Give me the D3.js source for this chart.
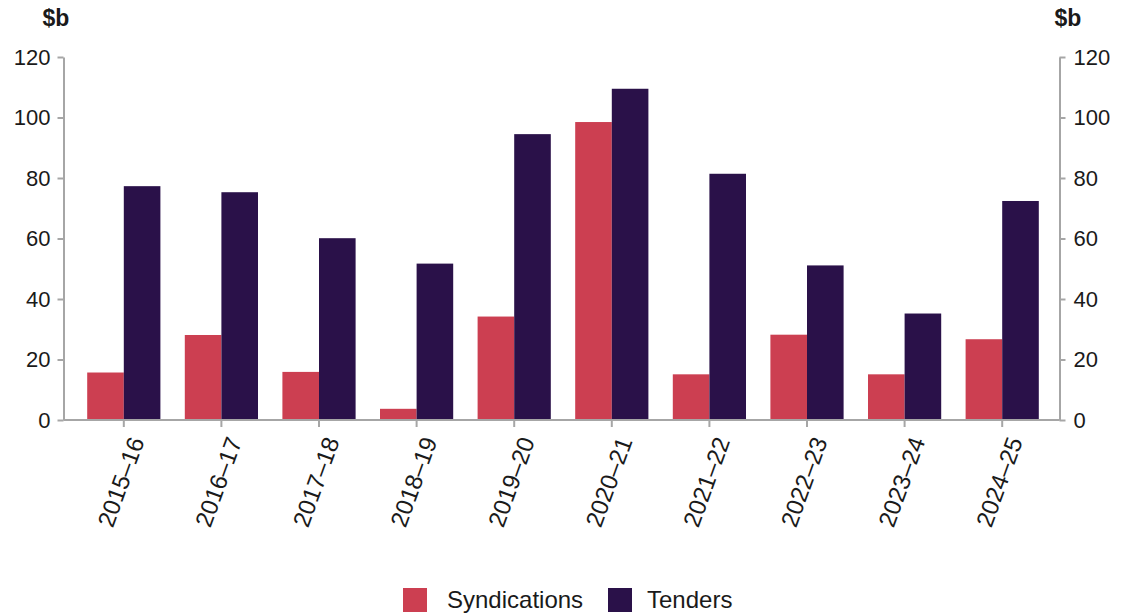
<!DOCTYPE html>
<html>
<head>
<meta charset="utf-8">
<script src="https://cdn.jsdelivr.net/npm/d3@7"></script>
<style>
    body { margin: 0; background: #fff; }
    text { font-family: "Liberation Sans", Arial, sans-serif; fill: #1a1a1a; }
</style>
</head>
<body>
<div id="chart"></div>
<script>
const years = ['2015–16', '2016–17', '2017–18', '2018–19', '2019–20', '2020–21', '2021–22', '2022–23', '2023–24', '2024–25'];
const seriesNames = ['Syndications', 'Tenders'];
const syndications = [15.7, 28.1, 15.9, 3.7, 34.2, 98.5, 15.1, 28.2, 15.1, 26.7];
const tenders = [77.3, 75.3, 60.1, 51.7, 94.5, 109.5, 81.4, 51.1, 35.2, 72.4];
const yTicks = [0, 20, 40, 60, 80, 100, 120];
const colors = ['#cc3f51', '#2a1149'];

class GroupedBarChart {
    constructor(containerID, width, height) {
        this.containerID = containerID;
        this.width = width;
        this.height = height;
        this.data = years.map((y, i) => ({ year: y, values: [syndications[i], tenders[i]] }));

        this.initVis();
    }

    initVis() {
        let vis = this;

        vis.svg = d3.select(vis.containerID)
            .append('svg')
            .attr('width', vis.width)
            .attr('height', vis.height);

        // plot box
        vis.left = 63.5;
        vis.right = 1059.5;
        vis.top = 57;
        vis.bottom = 420;

        vis.xScale = d3.scaleBand()
            .domain(years)
            .range([75, 1051])
            .paddingInner(0.25)
            .paddingOuter(0.125);

        vis.xInner = d3.scaleBand()
            .domain(seriesNames)
            .range([0, vis.xScale.bandwidth()]);

        vis.yScale = d3.scaleLinear()
            .domain([0, 120])
            .range([vis.bottom, vis.top]);

        vis.updateVis();
    }

    updateVis() {
        let vis = this;

        // Bars
        vis.svg.append('g')
            .selectAll('g')
            .data(vis.data)
            .join('g')
            .attr('transform', d => `translate(${vis.xScale(d.year)},0)`)
            .selectAll('rect')
            .data(d => d.values.map((v, i) => ({ name: seriesNames[i], value: v, i: i })))
            .join('rect')
            .attr('x', d => vis.xInner(d.name))
            .attr('y', d => vis.yScale(d.value))
            .attr('width', vis.xInner.bandwidth())
            .attr('height', d => vis.bottom - vis.yScale(d.value))
            .attr('fill', d => colors[d.i]);

        // Axes
        const axisColor = '#a6a6a6';
        const styleAxis = g => {
            g.select('.domain').attr('stroke', axisColor).attr('stroke-width', 2);
            g.selectAll('.tick line').attr('stroke', axisColor).attr('stroke-width', 2);
            g.selectAll('.tick text').style('font-size', '22px').attr('fill', '#1a1a1a');
        };

        vis.svg.append('g')
            .attr('transform', `translate(${vis.left},0)`)
            .call(d3.axisLeft(vis.yScale).tickValues(yTicks).tickSize(6).tickSizeOuter(0).tickPadding(7))
            .call(styleAxis);

        vis.svg.append('g')
            .attr('transform', `translate(${vis.right},0)`)
            .call(d3.axisRight(vis.yScale).tickValues(yTicks).tickSize(6).tickSizeOuter(0).tickPadding(8))
            .call(styleAxis);

        const xAxis = vis.svg.append('g')
            .attr('transform', `translate(0,${vis.bottom})`)
            .call(d3.axisBottom(vis.xScale).tickSize(7).tickSizeOuter(0).tickFormat(d => d))
            .call(styleAxis);

        xAxis.select('.domain').attr('d', `M${vis.left},0H${vis.right}`);

        xAxis.selectAll('.tick text')
            .style('font-size', '24px')
            .attr('text-anchor', 'end')
            .attr('x', 0)
            .attr('y', 0)
            .attr('dy', '0.35em')
            .attr('transform', 'translate(13,18) rotate(-70)');

        // Unit labels
        vis.svg.append('text')
            .attr('x', 56)
            .attr('y', 26)
            .attr('text-anchor', 'middle')
            .style('font-size', '23px')
            .style('font-weight', 'bold')
            .text('$b');

        vis.svg.append('text')
            .attr('x', 1068)
            .attr('y', 26)
            .attr('text-anchor', 'middle')
            .style('font-size', '23px')
            .style('font-weight', 'bold')
            .text('$b');

        // Legend
        const legendX = [403, 608];
        const legend = vis.svg.append('g')
            .selectAll('g')
            .data(seriesNames)
            .join('g')
            .attr('transform', (d, i) => `translate(${legendX[i]},588)`);

        legend.append('rect')
            .attr('width', 24)
            .attr('height', 24)
            .attr('fill', (d, i) => colors[i]);

        legend.append('text')
            .attr('x', (d, i) => i === 0 ? 44 : 39)
            .attr('y', 12)
            .attr('dy', '0.35em')
            .style('font-size', '24px')
            .text(d => d);
    }
}

new GroupedBarChart('#chart', 1121, 616);
</script>
</body>
</html>
